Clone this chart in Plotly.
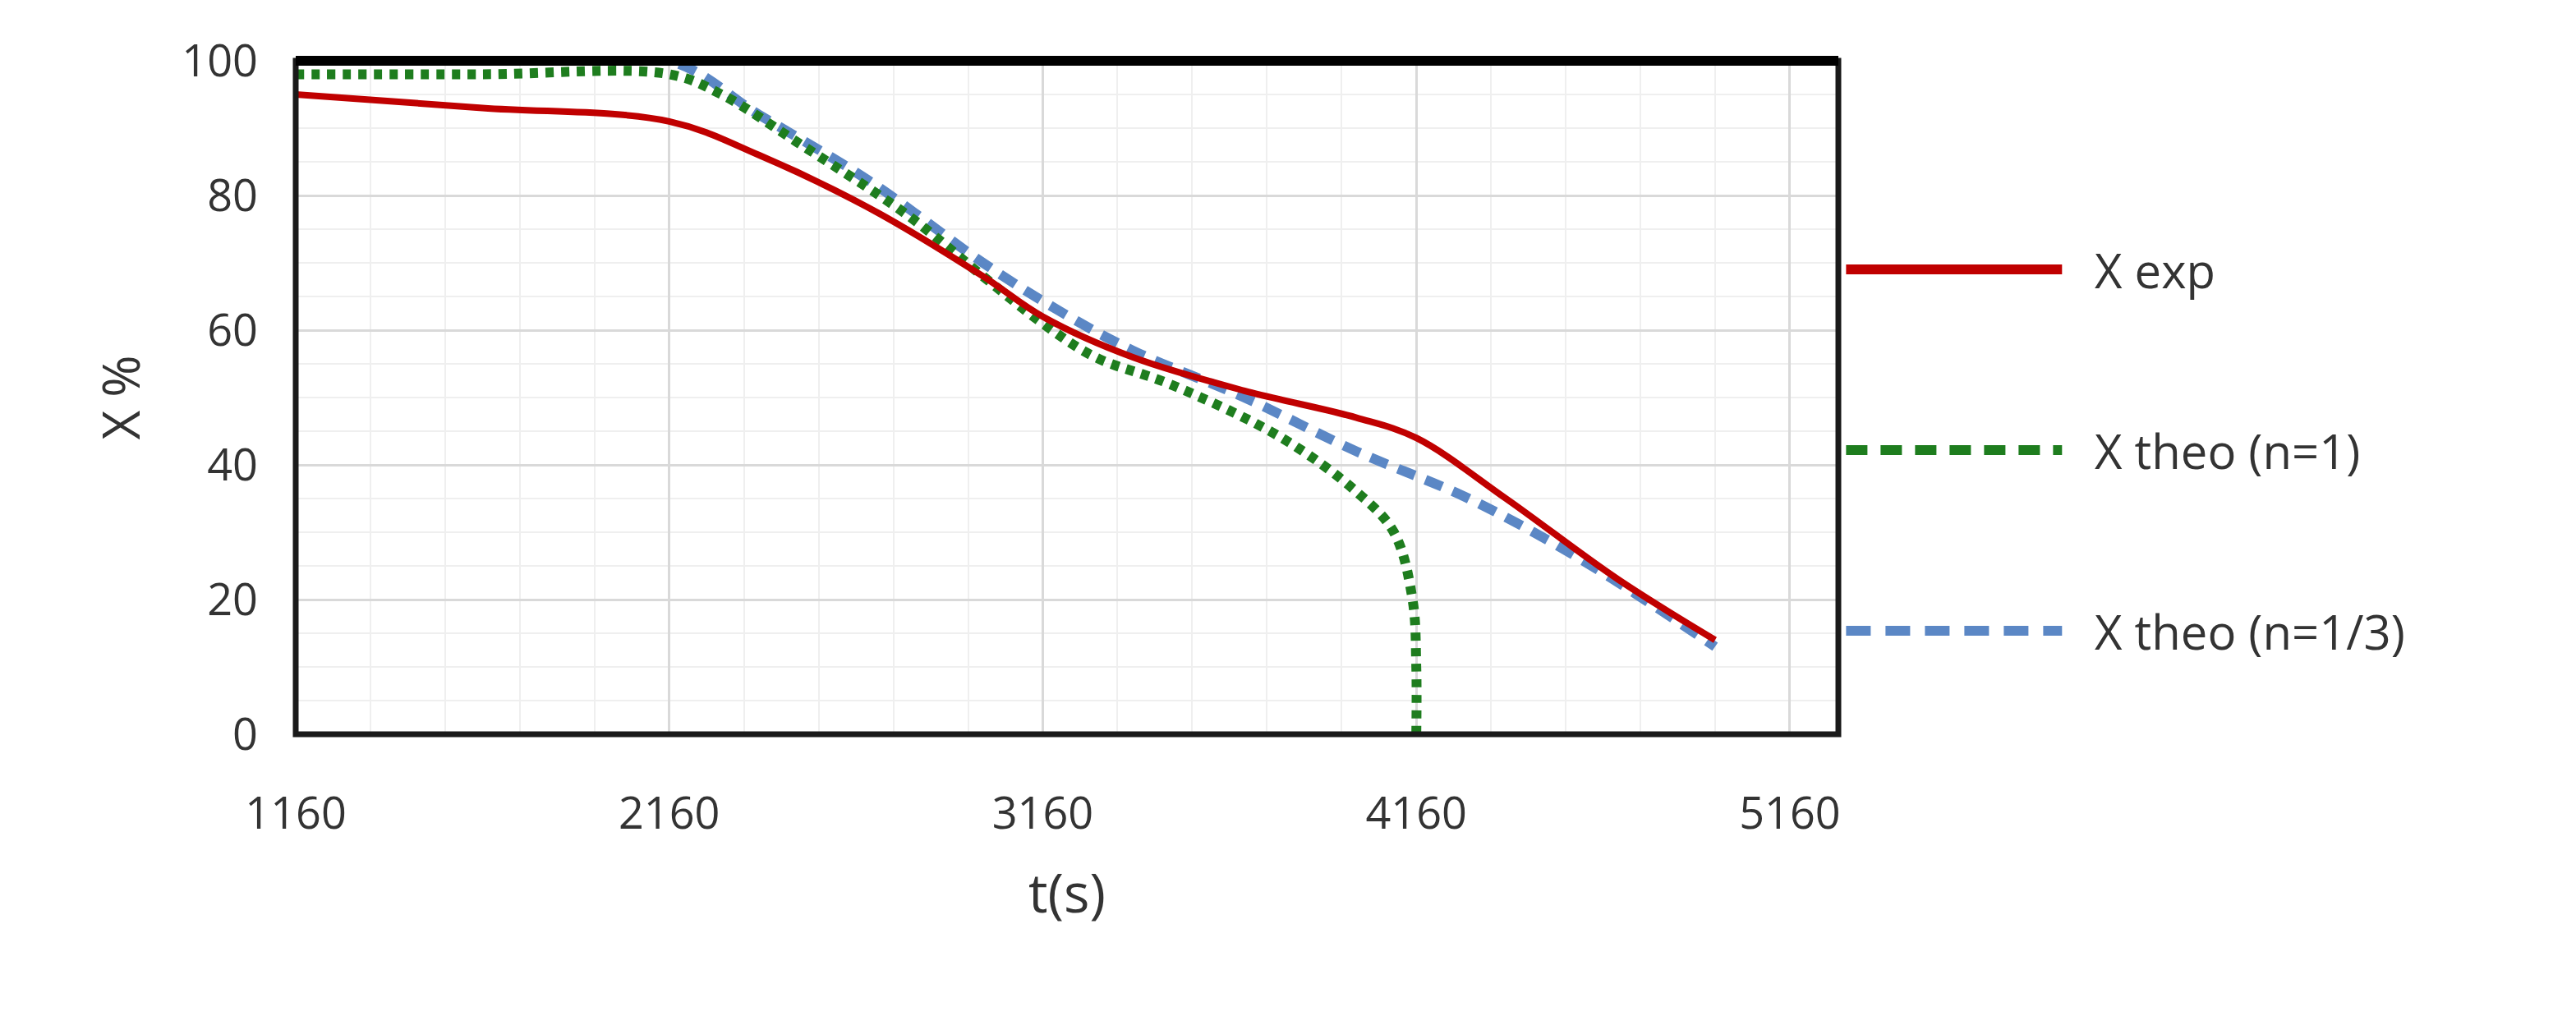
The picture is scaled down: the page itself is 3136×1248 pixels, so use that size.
import plotly.graph_objects as go

# Data
t_exp = [1160, 1660, 2160, 2400, 2700, 3000, 3160, 3400, 3700, 4000, 4160, 4400, 4700, 4960]
x_exp = [95, 93, 91, 86, 78, 68, 62, 56, 51, 47, 44, 35, 23, 14]

t_n1 = [1160, 1660, 2160, 2300, 2500, 2800, 3000, 3160, 3300, 3500, 3800, 4000, 4100, 4150, 4160, 4160]
x_n1 = [98, 98, 98, 95, 88, 77, 68, 61, 56, 52, 44, 36, 30, 20, 10, 0]

t_n13 = [1160, 1660, 2160, 2400, 2700, 3000, 3200, 3400, 3700, 4000, 4300, 4600, 4960]
x_n13 = [100, 100, 100, 92, 82, 70, 63, 57, 50, 42, 35, 26, 13]

names = ["X exp", "X theo (n=1)", "X theo (n=1/3)"]
colors = ["#c00000", "#1e7d1e", "#5b87c5"]

FONT = "Open Sans"
TXT = "#333333"

fig = go.Figure()
fig.add_trace(go.Scatter(x=t_n13, y=x_n13, mode="lines", name=names[2], line_shape="spline",
                         line=dict(color=colors[2], width=12, dash="22px,14px")))
fig.add_trace(go.Scatter(x=t_n1, y=x_n1, mode="lines", name=names[1], line_shape="spline",
                         line=dict(color=colors[1], width=12, dash="10px,9px")))
fig.add_trace(go.Scatter(x=t_exp, y=x_exp, mode="lines", name=names[0], line_shape="spline",
                         line=dict(color=colors[0], width=8)))

fig.update_xaxes(range=[1160, 5290], tickvals=[1160, 2160, 3160, 4160, 5160],
                 showgrid=True, gridcolor="#d9d9d9", gridwidth=3,
                 minor=dict(dtick=200, tick0=1160, showgrid=True, gridcolor="#efefef", gridwidth=2),
                 zeroline=False, ticklabelstandoff=60,
                 tickfont=dict(family=FONT, size=54, color=TXT),
                 title=dict(text="t(s)", font=dict(family=FONT, size=66, color=TXT), standoff=40))
fig.update_yaxes(range=[0, 100], dtick=20, showgrid=True, gridcolor="#d9d9d9", gridwidth=3,
                 minor=dict(dtick=5, showgrid=True, gridcolor="#efefef", gridwidth=2),
                 zeroline=False, ticklabelstandoff=45,
                 tickfont=dict(family=FONT, size=54, color=TXT),
                 title=dict(text="X %", font=dict(family=FONT, size=62, color=TXT), standoff=30))

shapes = [
    dict(type="rect", xref="paper", yref="paper", x0=0, x1=1, y0=0, y1=1,
         line=dict(color="#1a1a1a", width=7)),
    dict(type="line", xref="paper", yref="paper", x0=0, x1=1, y0=1, y1=1,
         line=dict(color="black", width=12)),
]
annotations = []
legend_y = [320, 540, 760]
dashes = ["solid", "26px,16px", "30px,18px"]
for i, (nm, c) in enumerate(zip(names, colors)):
    yp = 1 - (legend_y[i] - 66) / 820
    shapes.append(dict(type="line", xref="paper", yref="paper", x0=0.005 + 1, x1=1.145, y0=yp, y1=yp,
                       line=dict(color=c, width=12, dash=dashes[i])))
    annotations.append(dict(text=nm, xref="paper", yref="paper", x=1.165, y=yp, showarrow=False,
                            xanchor="left", yanchor="middle",
                            font=dict(family=FONT, size=58, color=TXT)))

fig.update_layout(width=3136, height=1248, showlegend=False,
                  plot_bgcolor="white", paper_bgcolor="white",
                  margin=dict(l=352, r=906, t=66, b=362),
                  shapes=shapes, annotations=annotations)

fig.write_html("out.html")
